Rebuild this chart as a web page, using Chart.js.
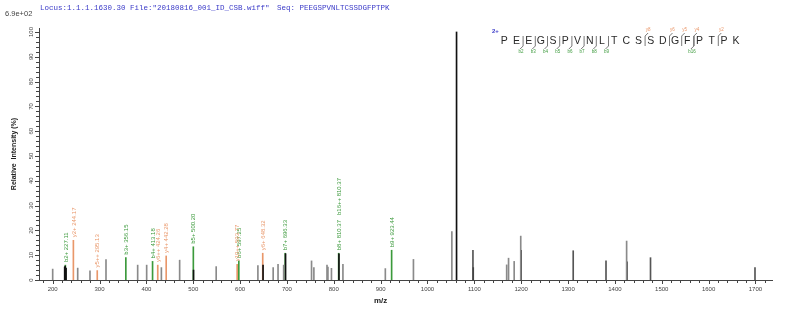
<!DOCTYPE html>
<html>
<head>
<meta charset="utf-8">
<script src="https://cdn.jsdelivr.net/npm/chart.js@4.4.1/dist/chart.umd.min.js"></script>
<style>
  html, body { margin: 0; padding: 0; background: #fff; }
  #wrap { width: 800px; height: 313px; position: relative; }
</style>
</head>
<body>
<div id="wrap"><canvas id="spectrum"></canvas></div>
<script>
/* ── axis ticks ── */
const xTicks = [200, 300, 400, 500, 600, 700, 800, 900, 1000, 1100, 1200, 1300, 1400, 1500, 1600, 1700];
const yTicks = [0, 10, 20, 30, 40, 50, 60, 70, 80, 90, 100];

/* ── unmatched peaks (grey) ── */
const greyMz  = [200, 253.4, 279.6, 313.8, 381.4, 400.6, 432, 471, 549, 638, 670.6, 681, 693, 752.5, 757.5, 785.5, 787.5, 795, 819.5, 910, 970, 1052, 1169, 1173, 1185, 1199, 1425];
const greyInt = [4.4, 4.8, 3.7, 8.2, 6, 6, 5, 8, 5.4, 5.8, 5, 6.3, 6, 7.7, 5, 6, 5.2, 4.7, 6.3, 4.6, 8.3, 19.5, 6.1, 8.8, 7.5, 17.7, 15.7];

/* ── dark peaks ── */
const darkMz  = [1097, 1311, 1381, 1476, 1699];
const darkInt = [12, 11.8, 7.7, 9, 5];

/* ── black peaks ── */
const blackMz  = [225.6, 226.6, 228.6, 500.6, 649, 697, 811, 1062, 1097.6, 1199.6, 1425.6];
const blackInt = [5.2, 5.6, 4.8, 4, 6, 10.6, 10.6, 100, 5, 12, 7.3];

/* ── b ions (green) ── */
const bIonMz    = [227.11, 356.15, 413.18, 500.20, 597.25, 696.33, 810.37, 923.44];
const bIonInt   = [6, 9, 7.5, 13.4, 7.7, 10.8, 10.8, 12];
const bIonLabel = ['b2+ 227.11', 'b3+ 356.15', 'b4+ 413.18', 'b5+ 500.20', 'b6+ 597.25', 'b7+ 696.33', 'b8+ 810.37   b16++ 810.37', 'b9+ 923.44'];

/* ── y ions (orange) ── */
const yIonMz    = [244.17, 295.13, 424.26, 442.28, 593.77, 648.32];
const yIonInt   = [16, 3.8, 6, 9.7, 6.3, 10.8];
const yIonLabel = ['y2+ 244.17', 'y5++ 295.13', 'y6++ 424.26', 'y4+ 442.28', 'y10++ 593.77', 'y6+ 648.32'];

/* ── peptide annotation ── */
const sequence = ['P','E','E','G','S','P','V','N','L','T','C','S','S','D','G','F','P','T','P','K'];
const bCuts = [2, 3, 4, 5, 6, 7, 8, 9, 16];
const yCuts = [8, 6, 5, 4, 2];

const GREEN = '#3c9a3c';
const ORANGE = '#e9976a';

function pts(xs, ys) { return xs.map((x, i) => ({ x, y: ys[i] })); }

function peakSet(label, xs, ys, color) {
  return {
    label,
    data: pts(xs, ys),
    backgroundColor: color,
    borderWidth: 0,
    barThickness: 1,
    grouped: false,
  };
}

/* ── overlay : texts, ticks, ion labels, sequence ── */
const overlay = {
  id: 'overlay',
  afterDraw(chart) {
    const ctx = chart.ctx;
    const xs = chart.scales.x, ys = chart.scales.y;
    const area = chart.chartArea;
    ctx.save();

    // header
    ctx.fillStyle = '#3a3ac8';
    ctx.font = '7.5px "Liberation Mono", monospace';
    ctx.textBaseline = 'middle';
    ctx.textAlign = 'left';
    ctx.fillText('Locus:1.1.1.1630.30 File:"20180816_001_ID_CSB.wiff"', 40, 8);
    ctx.fillText('Seq: PEEGSPVNLTCSSDGFPTPK', 277, 8);
    ctx.fillStyle = '#444';
    ctx.font = '7.5px "Liberation Sans", Arial';
    ctx.fillText('6.9e+02', 5, 14);

    // axis ticks
    ctx.strokeStyle = '#444';
    ctx.lineWidth = 1;
    ctx.beginPath();
    for (let v = 180; v <= 1720; v += 20) {
      const px = Math.round(xs.getPixelForValue(v)) + 0.5;
      const len = v % 100 === 0 ? 4 : 3;
      ctx.moveTo(px, area.bottom);
      ctx.lineTo(px, area.bottom + len);
    }
    for (let v = 0; v <= 100; v += 2) {
      const py = Math.round(ys.getPixelForValue(v)) + 0.5;
      const len = v % 10 === 0 ? 4 : 3;
      ctx.moveTo(area.left, py);
      ctx.lineTo(area.left - len, py);
    }
    ctx.stroke();

    ctx.fillStyle = '#444';
    ctx.font = '6px "Liberation Sans", Arial';
    ctx.textAlign = 'center';
    ctx.textBaseline = 'middle';
    xTicks.forEach(v => ctx.fillText(String(v), xs.getPixelForValue(v), area.bottom + 9));
    yTicks.forEach(v => {
      ctx.save();
      ctx.translate(area.left - 8, ys.getPixelForValue(v));
      ctx.rotate(-Math.PI / 2);
      ctx.fillText(String(v), 0, 0);
      ctx.restore();
    });

    // axis titles
    ctx.fillStyle = '#222';
    ctx.font = 'bold 7px "Liberation Sans", Arial';
    ctx.save();
    ctx.translate(14, (area.top + area.bottom) / 2);
    ctx.rotate(-Math.PI / 2);
    ctx.fillText('Relative  Intensity (%)', 0, 0);
    ctx.restore();
    ctx.font = 'bold 8px "Liberation Sans", Arial';
    ctx.fillText('m/z', xs.getPixelForValue(900), area.bottom + 21);

    // ion labels
    ctx.font = '6px "Liberation Sans", Arial';
    ctx.textAlign = 'left';
    const ionLabels = (dsIndex, labels, color) => {
      const meta = chart.getDatasetMeta(dsIndex);
      ctx.fillStyle = color;
      meta.data.forEach((el, i) => {
        ctx.save();
        ctx.translate(el.x + 0.5, el.y - 3);
        ctx.rotate(-Math.PI / 2);
        ctx.fillText(labels[i], 0, 0);
        ctx.restore();
      });
    };
    ionLabels(3, bIonLabel, GREEN);
    ionLabels(4, yIonLabel, ORANGE);

    // peptide sequence
    const x0 = 504.3, step = 12.2, yl = 41;
    ctx.fillStyle = '#2a2a2a';
    ctx.font = '10.5px "Liberation Sans", Arial';
    ctx.textAlign = 'center';
    sequence.forEach((aa, i) => ctx.fillText(aa, x0 + i * step, yl));
    ctx.fillStyle = '#3a3ac8';
    ctx.font = 'bold 6px "Liberation Sans", Arial';
    ctx.fillText('2+', x0 - 9, 31);

    ctx.lineWidth = 0.8;
    ctx.font = '4.5px "Liberation Sans", Arial';
    bCuts.forEach(n => {
      const sx = x0 + (n - 0.5) * step + 0.5;
      ctx.strokeStyle = '#555';
      ctx.beginPath();
      ctx.moveTo(sx, 36); ctx.lineTo(sx, 46); ctx.lineTo(sx - 3, 49);
      ctx.stroke();
      ctx.fillStyle = GREEN;
      ctx.fillText('b' + n, sx - 2, 52);
    });
    yCuts.forEach(n => {
      const sx = x0 + (sequence.length - n - 0.5) * step + 0.5;
      ctx.strokeStyle = '#555';
      ctx.beginPath();
      ctx.moveTo(sx, 46); ctx.lineTo(sx, 36); ctx.lineTo(sx + 3, 33);
      ctx.stroke();
      ctx.fillStyle = ORANGE;
      ctx.fillText('y' + n, sx + 3, 30);
    });

    ctx.restore();
  }
};

new Chart(document.getElementById('spectrum'), {
  type: 'bar',
  data: {
    datasets: [
      peakSet('grey', greyMz, greyInt, '#8a8a8a'),
      peakSet('dark', darkMz, darkInt, '#555'),
      peakSet('black', blackMz, blackInt, '#111'),
      peakSet('b ions', bIonMz, bIonInt, GREEN),
      peakSet('y ions', yIonMz, yIonInt, ORANGE),
    ]
  },
  options: {
    responsive: true,
    maintainAspectRatio: false,
    animation: false,
    layout: { padding: { left: 39, right: 28, top: 28, bottom: 33 } },
    plugins: { legend: { display: false }, tooltip: { enabled: false } },
    scales: {
      x: {
        type: 'linear', min: 170.8, max: 1735.3, offset: false,
        grid: { display: false, drawTicks: false },
        border: { display: true, color: '#444' },
        ticks: { display: false }
      },
      y: {
        min: 0, max: 101.6,
        grid: { display: false, drawTicks: false },
        border: { display: true, color: '#444' },
        ticks: { display: false }
      }
    }
  },
  plugins: [overlay]
});
</script>
</body>
</html>
